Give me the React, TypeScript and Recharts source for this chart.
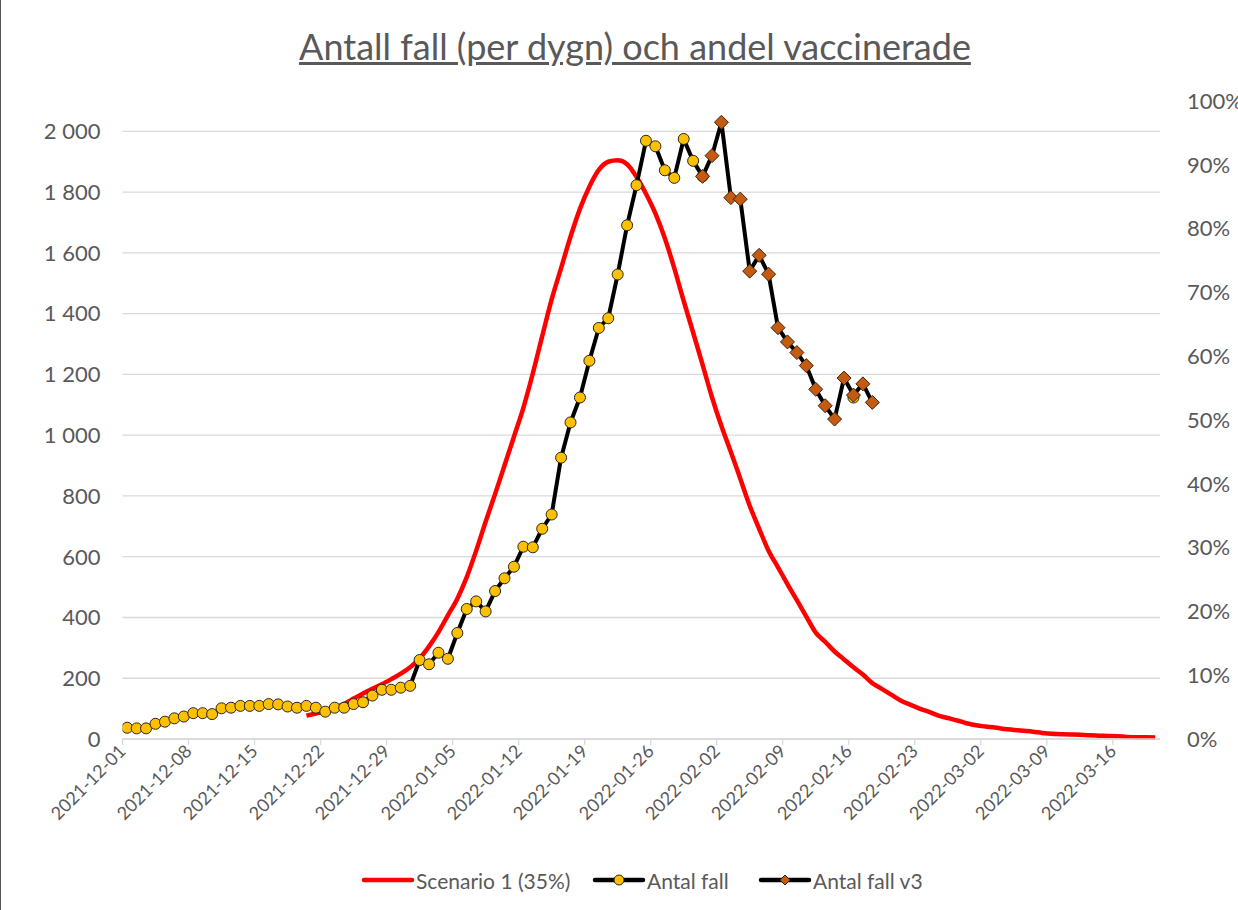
import React from 'react';
import { LineChart, Line, XAxis, YAxis, CartesianGrid } from 'recharts';

// ---------- data ----------
const axisStartDate = '2021-12-01';
const axisEndDate = '2022-03-21';
const weekTicks = [
  '2021-12-01', '2021-12-08', '2021-12-15', '2021-12-22', '2021-12-29',
  '2022-01-05', '2022-01-12', '2022-01-19', '2022-01-26', '2022-02-02',
  '2022-02-09', '2022-02-16', '2022-02-23', '2022-03-02', '2022-03-09', '2022-03-16',
];
const leftTicks = [0, 200, 400, 600, 800, 1000, 1200, 1400, 1600, 1800, 2000];
const rightTicks = [0, 0.1, 0.2, 0.3, 0.4, 0.5, 0.6, 0.7, 0.8, 0.9, 1];

// Scenario 1 (35%) – daily values from 2021-12-20
const scenarioStart = '2021-12-20';
const scenarioValues = [
  77, 84, 91, 103, 116, 133, 150, 165, 180, 197,
  215, 236, 265, 305, 352, 407, 462, 533, 620, 715,
  806, 900, 995, 1090, 1203, 1326, 1447, 1550, 1653, 1745,
  1818, 1873, 1900, 1905, 1892, 1850, 1795, 1730, 1648, 1550,
  1442, 1338, 1232, 1125, 1030, 945, 857, 768, 692, 620,
  565, 510, 457, 403, 350, 320, 288, 262, 236, 212,
  184, 165, 146, 127, 113, 100, 89, 77, 69, 61,
  52, 45, 41, 38, 33, 30, 27, 24, 20, 17,
  16, 15, 14, 12, 11, 10, 9, 7, 6, 6,
  5,
];

// Antal fall – daily values from 2021-12-01
const fallStart = '2021-12-01';
const fallValues = [
  37, 35, 35, 50, 57, 68, 74, 85, 85, 82,
  101, 103, 109, 109, 109, 115, 114, 107, 103, 109,
  103, 90, 103, 103, 115, 121, 143, 162, 162, 169,
  175, 260, 246, 284, 264, 349, 428, 453, 420, 487,
  529, 567, 633, 631, 692, 739, 926, 1042, 1124, 1245,
  1353, 1385, 1529, 1691, 1823, 1969, 1951, 1872, 1847, 1975,
  1903, 1852,
];
const fallExtraDate = '2022-02-16';
const fallExtraValue = 1124;

// Antal fall v3 – daily values from 2022-01-31
const v3Start = '2022-01-31';
const v3Values = [
  1852, 1920, 2030, 1782, 1777, 1540, 1592, 1530, 1354, 1307,
  1272, 1229, 1151, 1097, 1053, 1188, 1132, 1169, 1108,
];

// ---------- build rows ----------
const DAY = 86400000;
const ms = (d: string) => Date.parse(d + 'T00:00:00Z');
const axisStart = ms(axisStartDate);
const axisEnd = ms(axisEndDate);
const nDays = Math.round((axisEnd - axisStart) / DAY);
const offsetOf = (d: string) => Math.round((ms(d) - axisStart) / DAY);

type Row = { t: number; scenario: number | null; fall: number | null; v3: number | null; share: number | null };
const rows: Row[] = [];
for (let i = 0; i < nDays; i++) {
  rows.push({ t: axisStart + (i + 0.5) * DAY, scenario: null, fall: null, v3: null, share: null });
}
scenarioValues.forEach((v, k) => { rows[offsetOf(scenarioStart) + k].scenario = v; });
fallValues.forEach((v, k) => { rows[offsetOf(fallStart) + k].fall = v; });
rows[offsetOf(fallExtraDate)].fall = fallExtraValue;
v3Values.forEach((v, k) => { rows[offsetOf(v3Start) + k].v3 = v; });

const weekTickMs = weekTicks.map(ms);

// ---------- styles ----------
const FONT = 'Lato, "Open Sans", sans-serif';
const GREY = '#595959';
const GRID = '#d9d9d9';

const fmtLeft = (v: number) =>
  v >= 1000 ? `${Math.floor(v / 1000)} ${String(v % 1000).padStart(3, '0')}` : String(v);
const fmtRight = (v: number) => `${Math.round(v * 100)}%`;
const fmtDate = (v: number) => new Date(v).toISOString().slice(0, 10);

const XTick = (props: any) => {
  const { x, y, payload } = props;
  return (
    <g transform={`translate(${x},${y + 1})`}>
      <text textAnchor="end" dy="0.35em" transform="rotate(-45)" fill={GREY} fontSize={18} fontFamily={FONT}>
        {fmtDate(payload.value)}
      </text>
    </g>
  );
};

const DiamondDot = (props: any) => {
  const { cx, cy, index, value } = props;
  if (cx == null || cy == null || value == null) return <g key={`dm-${index}`} />;
  const s = 7;
  return (
    <path
      key={`dm-${index}`}
      d={`M${cx},${cy - s}L${cx + s},${cy}L${cx},${cy + s}L${cx - s},${cy}Z`}
      fill="#c55a11"
      stroke="#3a2410"
      strokeWidth={1}
    />
  );
};

const legendItems = [
  { label: 'Scenario 1 (35%)', color: '#ff0000', marker: 'none', left: 360 },
  { label: 'Antal fall', color: '#000000', marker: 'circle', left: 591 },
  { label: 'Antal fall v3', color: '#000000', marker: 'diamond', left: 757 },
];

const LegendSample = ({ color, marker }: { color: string; marker: string }) => (
  <svg width={54} height={16} style={{ display: 'block' }}>
    <line x1={3} y1={8} x2={51} y2={8} stroke={color} strokeWidth={4.5} strokeLinecap="round" />
    {marker === 'circle' && <circle cx={27} cy={8} r={5} fill="#ffc000" stroke="#262626" strokeWidth={1} />}
    {marker === 'diamond' && <path d="M27,3L32,8L27,13L22,8Z" fill="#c55a11" stroke="#3a2410" strokeWidth={1} />}
  </svg>
);

export default function App() {
  return (
    <div
      style={{
        position: 'absolute', left: 0, top: 0, width: 1238, height: 910,
        background: '#fff', overflow: 'hidden', fontFamily: FONT,
        borderLeft: '1px solid #555', boxSizing: 'border-box',
      }}
    >
      <div
        style={{
          position: 'absolute', left: 0, width: 1268, top: 24, textAlign: 'center',
          fontSize: 36, color: GREY, textDecoration: 'underline', lineHeight: '44px',
        }}
      >
        Antall fall (per dygn) och andel vaccinerade
      </div>
      <div style={{ position: 'absolute', left: -1, top: 0 }}>
        <LineChart width={1238} height={910} data={rows} margin={{ top: 101, right: 0, bottom: 71, left: 0 }}>
          <CartesianGrid yAxisId="left" vertical={false} stroke={GRID} strokeWidth={1.3} horizontalValues={leftTicks} />
          <XAxis
            dataKey="t"
            type="number"
            domain={[axisStart, axisEnd]}
            ticks={weekTickMs}
            interval={0}
            allowDataOverflow
            height={100}
            tick={<XTick />}
            tickSize={6}
            axisLine={{ stroke: GRID, strokeWidth: 1.3 }}
            tickLine={{ stroke: GRID, strokeWidth: 1.3 }}
          />
          <YAxis
            yAxisId="left"
            type="number"
            width={122.5}
            domain={[0, 2100]}
            ticks={leftTicks}
            interval={0}
            axisLine={false}
            tickLine={false}
            tickSize={0}
            tickMargin={22}
            tickFormatter={fmtLeft}
            tick={{ fill: GREY, fontSize: 22, fontFamily: FONT }}
          />
          <YAxis
            yAxisId="right"
            type="number"
            orientation="right"
            width={78}
            domain={[0, 1]}
            ticks={rightTicks}
            interval={0}
            allowDataOverflow
            axisLine={false}
            tickLine={false}
            tickSize={0}
            tickMargin={27}
            tickFormatter={fmtRight}
            tick={{ fill: GREY, fontSize: 22, fontFamily: FONT, textAnchor: 'start' }}
          />
          <Line
            yAxisId="right"
            dataKey="share"
            stroke="none"
            dot={false}
            activeDot={false}
            legendType="none"
            isAnimationActive={false}
          />
          <Line
            yAxisId="left"
            dataKey="scenario"
            type="monotone"
            stroke="#ff0000"
            strokeWidth={4.5}
            dot={false}
            activeDot={false}
            isAnimationActive={false}
            strokeLinejoin="round"
          />
          <Line
            yAxisId="left"
            dataKey="fall"
            type="linear"
            stroke="#000000"
            strokeWidth={4}
            dot={{ r: 5.5, fill: '#ffc000', stroke: '#262626', strokeWidth: 1 }}
            activeDot={false}
            isAnimationActive={false}
            strokeLinejoin="round"
          />
          <Line
            yAxisId="left"
            dataKey="v3"
            type="linear"
            stroke="#000000"
            strokeWidth={4}
            dot={<DiamondDot />}
            activeDot={false}
            isAnimationActive={false}
            strokeLinejoin="round"
          />
        </LineChart>
      </div>
      {legendItems.map((it, i) => (
        <div
          key={i}
          style={{
            position: 'absolute', left: it.left, top: 866, display: 'flex', alignItems: 'center',
            fontSize: 21, color: GREY, whiteSpace: 'nowrap', height: 28,
          }}
        >
          <LegendSample color={it.color} marker={it.marker} />
          <span style={{ marginLeft: 1 }}>{it.label}</span>
        </div>
      ))}
    </div>
  );
}
